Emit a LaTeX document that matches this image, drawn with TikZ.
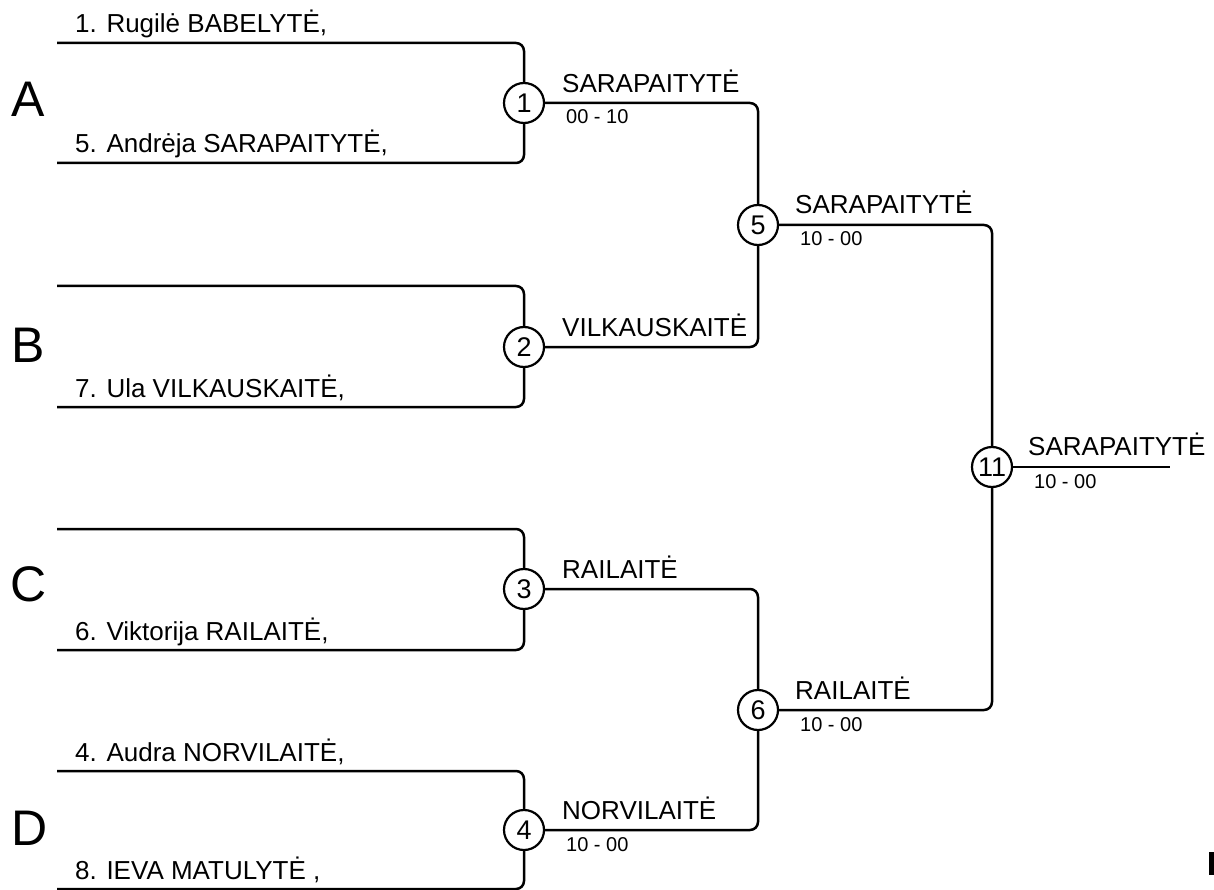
\documentclass[tikz,border=0pt]{standalone}
\usepackage{fontspec}
\setmainfont{Liberation Sans}
\usetikzlibrary{positioning}

\tikzset{
  waku/.style={line width=2.5pt, rounded corners=8pt},
  maru/.style={circle, draw, line width=2.2pt, minimum size=40pt, inner sep=0pt, fill=white, font=\fontsize{27}{27}\selectfont},
  namae/.style={anchor=base west, inner sep=0pt, font=\fontsize{26}{30}\selectfont},
  ten/.style={anchor=base west, inner sep=0pt, font=\fontsize{20}{22}\selectfont},
  gurupu/.style={anchor=base west, inner sep=0pt, font=\fontsize{50}{52}\selectfont},
}

\begin{document}
\begin{tikzpicture}[x=1pt,y=-1pt]
        \useasboundingbox (0,0) rectangle (1214,890);

        %試合の丸
        \node[maru] (m1) at (524,103) {1};
        \node[maru] (m2) at (524,347) {2};
        \node[maru] (m3) at (524,589) {3};
        \node[maru] (m4) at (524,830) {4};
        \node[maru] (m5) at (758,225) {5};
        \node[maru] (m6) at (758,710) {6};
        \node[maru] (m11) at (992,467) {11};

        %選手の線の始まり
        \coordinate (a1) at (57,43);
        \coordinate (a5) at (57,163);
        \coordinate (a2) at (57,286);
        \coordinate (a7) at (57,407);
        \coordinate (a3) at (57,529);
        \coordinate (a6) at (57,650);
        \coordinate (a4) at (57,771);
        \coordinate (a8) at (57,889);
        \coordinate (goal) at (1170,467);

        %一回戦
        \draw[waku] (a1) -| (m1); \draw[waku] (a5) -| (m1);
        \draw[waku] (a2) -| (m2); \draw[waku] (a7) -| (m2);
        \draw[waku] (a3) -| (m3); \draw[waku] (a6) -| (m3);
        \draw[waku] (a4) -| (m4); \draw[waku] (a8) -| (m4);

        %二回戦と決勝
        \draw[waku] (m1) -| (m5); \draw[waku] (m2) -| (m5);
        \draw[waku] (m3) -| (m6); \draw[waku] (m4) -| (m6);
        \draw[waku] (m5) -| (m11); \draw[waku] (m6) -| (m11);
        \draw[waku] (m11) -- (goal);

        %グループ
        \node[gurupu] (gA) at (11,117) {A};
        \node[gurupu] (gB) at (11,362) {B};
        \node[gurupu] (gC) at (10,601) {C};
        \node[gurupu] (gD) at (11,845) {D};

        %選手の名前
        \node[namae] (n1) at (75,33) {1. Rugilė BABELYTĖ,};
        \node[namae] (n5) at (75,153) {5. Andrėja SARAPAITYTĖ,};
        \node[namae] (n7) at (75,397) {7. Ula VILKAUSKAITĖ,};
        \node[namae] (n6) at (75,640) {6. Viktorija RAILAITĖ,};
        \node[namae] (n4) at (75,761) {4. Audra NORVILAITĖ,};
        \node[namae] (n8) at (75,879) {8. IEVA MATULYTĖ ,};

        %勝者と点数
        \node[namae] (w1) at (562,93) {SARAPAITYTĖ};
        \node[ten] (s1) at (566,124) {00 - 10};
        \node[namae] (w2) at (562,336) {VILKAUSKAITĖ};
        \node[namae] (w3) at (562,578) {RAILAITĖ};
        \node[namae] (w4) at (562,819) {NORVILAITĖ};
        \node[ten] (s4) at (566,851) {10 - 00};
        \node[namae] (w5) at (795,214) {SARAPAITYTĖ};
        \node[ten] (s5) at (800,246) {10 - 00};
        \node[namae] (w6) at (795,699) {RAILAITĖ};
        \node[ten] (s6) at (800,731) {10 - 00};
        \node[namae] (w11) at (1028,455) {SARAPAITYTĖ};
        \node[ten] (s11) at (1034,488) {10 - 00};

        \fill (1209,852) rectangle (1214,875); %右下の切れた文字
\end{tikzpicture}
\end{document}
